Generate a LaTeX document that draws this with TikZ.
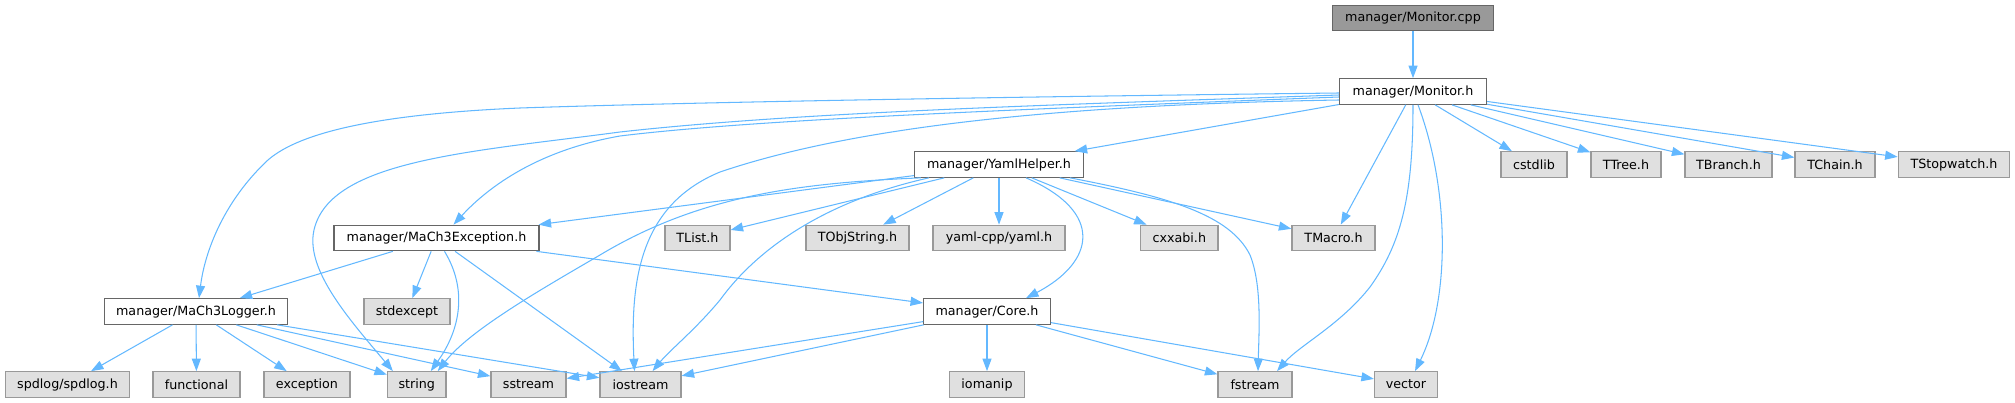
\documentclass[tikz,border=0pt]{standalone}
\usepackage{fontspec}
\setmainfont{DejaVu Sans}
\usetikzlibrary{arrows.meta,calc}
\definecolor{edgeblue}{HTML}{63B8FF}
\definecolor{boxgray}{HTML}{E0E0E0}
\definecolor{bordgray}{HTML}{999999}
\definecolor{borddark}{HTML}{666666}
\definecolor{rootfill}{HTML}{999999}
\tikzset{
  base/.style={rectangle, inner sep=0pt, minimum height=25.5pt, line width=1.2pt,
    font=\fontsize{12.7}{15}\selectfont, anchor=center},
  ext/.style={base, fill=boxgray, draw=bordgray},
  hdr/.style={base, fill=white, draw=borddark},
  root/.style={base, fill=rootfill, draw=borddark},
  edge/.style={draw=edgeblue, line width=1.05pt, -{Triangle[length=12.5pt,width=9pt]}, fill=none},
}
\begin{document}
\begin{tikzpicture}[x=1pt,y=-1pt]
\useasboundingbox (0,0) rectangle (2015,403);
% row 0
\node[root, minimum width=160.5pt] (Mcpp) at (1413,18) {manager/Monitor.cpp};
% row 1
\node[hdr, minimum width=147pt] (Monitor) at (1413,91.5) {manager/Monitor.h};
% row 2
\node[hdr, minimum width=169pt] (Yaml) at (999,164.5) {manager/YamlHelper.h};
\node[ext, minimum width=66pt] (cstdlib) at (1534,164.5) {cstdlib};
\node[ext, minimum width=70pt] (TTree) at (1626,164.5) {TTree.h};
\node[ext, minimum width=87pt] (TBranch) at (1728.5,164.5) {TBranch.h};
\node[ext, minimum width=80pt] (TChain) at (1835,164.5) {TChain.h};
\node[ext, minimum width=111.5pt] (TStopwatch) at (1954,164.5) {TStopwatch.h};
% row 3
\node[hdr, minimum width=205pt] (Exception) at (436.5,238) {manager/MaCh3Exception.h};
\node[ext, minimum width=65pt] (TList) at (697.5,238) {TList.h};
\node[ext, minimum width=103pt] (TObjString) at (857.5,238) {TObjString.h};
\node[ext, minimum width=132pt] (yamlcpp) at (999,238) {yaml-cpp/yaml.h};
\node[ext, minimum width=77.5pt] (cxxabi) at (1179.3,238) {cxxabi.h};
\node[ext, minimum width=83pt] (TMacro) at (1333.5,238) {TMacro.h};
% row 4
\node[hdr, minimum width=183.5pt] (Logger) at (196,311.5) {manager/MaCh3Logger.h};
\node[ext, minimum width=86pt] (stdexcept) at (407,311.5) {stdexcept};
\node[hdr, minimum width=126.7pt] (Core) at (987,311.5) {manager/Core.h};
% row 5
\node[ext, minimum width=124pt] (spdlog) at (67.5,384.5) {spdlog/spdlog.h};
\node[ext, minimum width=87pt] (functional) at (196.5,384.5) {functional};
\node[ext, minimum width=86pt] (exception) at (307,384.5) {exception};
\node[ext, minimum width=58.5pt] (string) at (416.75,384.5) {string};
\node[ext, minimum width=75pt] (sstream) at (528.5,384.5) {sstream};
\node[ext, minimum width=81pt] (iostream) at (640.5,384.5) {iostream};
\node[ext, minimum width=75pt] (iomanip) at (987,384.5) {iomanip};
\node[ext, minimum width=74pt] (fstream) at (1255,384.5) {fstream};
\node[ext, minimum width=63pt] (vector) at (1406,384.5) {vector};

% straight edges
\draw[edge] (Mcpp) -- (Monitor);
\foreach \t in {Yaml,TMacro,cstdlib,TTree,TBranch,TChain,TStopwatch}
  \draw[edge] (Monitor) -- (\t);
\foreach \t in {Exception,TList,TObjString,yamlcpp,cxxabi,TMacro}
  \draw[edge] (Yaml) -- (\t);
\foreach \t in {Logger,stdexcept,iostream,Core}
  \draw[edge] (Exception) -- (\t);
\foreach \t in {spdlog,functional,exception,string,sstream,iostream}
  \draw[edge] (Logger) -- (\t);
\foreach \t in {sstream,iostream,iomanip,fstream,vector}
  \draw[edge] (Core) -- (\t);

% curved edges
\draw[edge] ($(Monitor.west)+(0,1.5)$) .. controls (1000,97) and (700,102) .. (520,108)
  .. controls (380,114) and (300,132) .. (268,160)
  .. controls (225,200) and (205,250) .. ($(Logger.north)+(3,0)$);
\draw[edge] ($(Monitor.west)+(0,3.5)$) .. controls (1050,105) and (800,112) .. (620,132)
  .. controls (470,152) and (330,160) .. (314,230)
  .. controls (305,270) and (350,320) .. ($(string.north west)+(6,0)$);
\draw[edge] ($(Monitor.west)+(0,5.5)$) .. controls (1000,110) and (750,120) .. (620,136)
  .. controls (540,150) and (490,185) .. ($(Exception.north)+(17,0)$);
\draw[edge] ($(Monitor.west)+(0,8.5)$) .. controls (1050,105) and (850,128) .. (720,172)
  .. controls (640,205) and (630,280) .. ($(iostream.north)+(-6,0)$);
\draw[edge] (Monitor.south) .. controls (1413,200) and (1400,245) .. (1370,287)
  .. controls (1340,325) and (1300,345) .. ($(fstream.north)+(22,0)$);
\draw[edge] ($(Monitor.south)+(5,0)$) .. controls (1450,190) and (1450,300) .. ($(vector.north)+(9,0)$);
\draw[edge] ($(Yaml.south)+(71,0)$) .. controls (1170,197) and (1230,215) .. (1250,255)
  .. controls (1262,285) and (1259,330) .. ($(fstream.north)+(3,0)$);
\draw[edge] ($(Yaml.south)+(27,0)$) .. controls (1105,212) and (1095,262) .. ($(Core.north)+(39,0)$);
\draw[edge] ($(Yaml.south west)+(7,0)$) .. controls (800,183) and (700,195) .. (600,255)
  .. controls (540,290) and (470,330) .. ($(string.north)+(21,0)$);
\draw[edge] ($(Yaml.south west)+(15,0)$) .. controls (830,200) and (760,245) .. (720,300)
  .. controls (695,330) and (670,350) .. ($(iostream.north)+(12,0)$);
\draw[edge] ($(Exception.south)+(8,0)$) .. controls (468,290) and (460,330) .. ($(string.north)+(14,0)$);
\end{tikzpicture}
\end{document}
